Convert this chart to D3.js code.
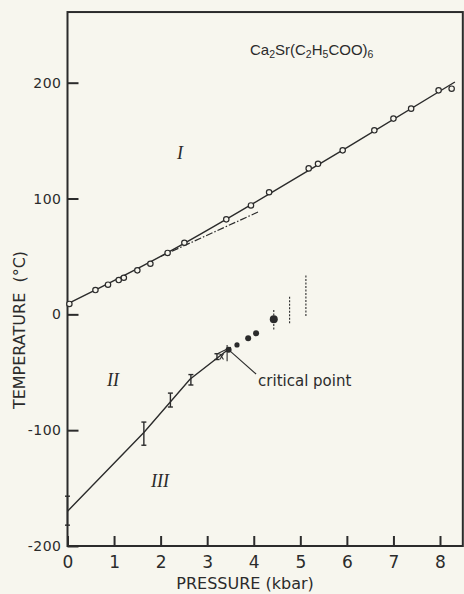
<!DOCTYPE html>
<html><head><meta charset="utf-8">
<script src="https://cdn.jsdelivr.net/npm/d3@7"></script>
<style>body{margin:0;background:#f7f6ee}svg{display:block}</style>
</head><body><svg id="c" width="464" height="594"></svg>
<script>
// ---- data ----
const pressureTicks = [0,1,2,3,4,5,6,7,8];
const temperatureTicks = [-200,-100,0,100,200];
// phase boundary I/II : open circles
const circleP = [0.04,0.60,0.87,1.10,1.21,1.50,1.78,2.15,2.51,3.41,3.94,4.33,5.18,5.38,5.91,6.59,7.00,7.38,7.97,8.25];
const circleT = [9,21,25.6,29.6,31.6,38,43.7,53,61.8,82,94,105.4,126,130,141.6,158.9,169,177.6,193.4,194.8];
// smooth fitted line through the I/II boundary
const fitP = [0,2,4,6,8.32];
const fitT = [9,50,96,144,200.6];
// dash-dot extrapolation
const dashP = [2.0,4.1];
const dashT = [50,88.5];
// II/III boundary line
const lineP = [0,1.64,2.63,3.43];
const lineT = [-170,-102,-56,-31];
// II/III error bars
const barP  = [0,1.64,2.21,2.65,3.21];
const barLo = [-182,-113,-80,-61,-39];
const barHi = [-157,-93,-68,-52,-34];
// filled circles (dielectric maxima)
const dotP = [3.46,3.64,3.88,4.05,4.43];
const dotT = [-30.5,-26.4,-20.7,-16.4,-4.3];
const dotR = [3,2.6,3,3,4];
// dotted vertical bars
const dbarP  = [4.43,4.77,5.12];
const dbarLo = [-13,-7.7,-1.5];
const dbarHi = [5,15.8,33.6];
// critical point
const critP = 3.46, critT = -30.5;
const critLabelP = 4.05, critLabelT = -51.5;

// ---- drawing ----
const ink = "#2b2b2b", bg = "#f7f6ee";
const svg = d3.select("#c");
svg.append("rect").attr("width",464).attr("height",594).attr("fill",bg);

const x = d3.scaleLinear().domain([0,8]).range([67.5,440]);
const y = d3.scaleLinear().domain([-200,200]).range([546,82.7]);
const xMax = 8.49, yMax = 261;

// frame
svg.append("rect")
  .attr("x",x(0)).attr("y",y(yMax))
  .attr("width",x(xMax)-x(0)).attr("height",y(-200)-y(yMax))
  .attr("fill","none").attr("stroke",ink).attr("stroke-width",2);

// y axis
const ya = svg.append("g").attr("transform",`translate(${x(0)},0)`)
  .call(d3.axisLeft(y).tickValues(temperatureTicks).tickSizeInner(-11).tickSizeOuter(0).tickPadding(6).tickFormat(d=>String(d)));
ya.select(".domain").remove();
ya.selectAll("line").attr("stroke",ink).attr("stroke-width",2);
ya.selectAll("text").attr("fill",ink).style("font-family","DejaVu Sans").style("font-size","14px").style("letter-spacing","0.5px");

// x axis
const xa = svg.append("g").attr("transform",`translate(0,${y(-200)})`)
  .call(d3.axisBottom(x).tickValues(pressureTicks).tickSizeInner(-10).tickSizeOuter(0).tickPadding(10).tickFormat(d=>String(d)));
xa.select(".domain").remove();
xa.selectAll("line").attr("stroke",ink).attr("stroke-width",2);
xa.selectAll("text").attr("fill",ink).style("font-family","DejaVu Sans").style("font-size","17px");

// axis titles
svg.append("text").attr("x",245).attr("y",589).attr("text-anchor","middle")
  .attr("fill",ink).style("font-family","DejaVu Sans").style("font-size","16px")
  .text("PRESSURE (kbar)");
svg.append("text").attr("transform","translate(25,330) rotate(-90)").attr("text-anchor","middle")
  .attr("fill",ink).style("font-family","DejaVu Sans").style("font-size","16px")
  .attr("xml:space","preserve").text("TEMPERATURE  (°C)");

// compound title
const t = svg.append("text").attr("x",250).attr("y",55).attr("fill",ink)
  .style("font-family","Liberation Sans").style("font-size","15px");
const parts = [["Ca",0],["2",1],["Sr(C",0],["2",1],["H",0],["5",1],["COO)",0],["6",1]];
parts.forEach(([s,sub],i)=>{
  const prevSub = i>0 ? parts[i-1][1] : 0;
  const ts = t.append("tspan").text(s).attr("dy", sub && !prevSub ? 3 : (!sub && prevSub ? -3 : 0));
  if(sub) ts.style("font-size","10.5px");
});

// region labels
const roman = (s,px,py)=>svg.append("text").attr("x",px).attr("y",py).attr("text-anchor","middle")
  .attr("fill",ink).style("font-family","Liberation Serif").style("font-style","italic").style("font-size","18px").text(s);
roman("I",180,159);
roman("II",113,386);
roman("III",160,487);

// I/II fitted line
svg.append("path").datum(fitP.map((p,i)=>[p,fitT[i]]))
  .attr("d",d3.line().x(d=>x(d[0])).y(d=>y(d[1])).curve(d3.curveNatural))
  .attr("fill","none").attr("stroke",ink).attr("stroke-width",1.4);
// dash-dot line
svg.append("path").datum(dashP.map((p,i)=>[p,dashT[i]]))
  .attr("d",d3.line().x(d=>x(d[0])).y(d=>y(d[1]))).attr("fill","none").attr("stroke",ink)
  .attr("stroke-width",1.2).attr("stroke-dasharray","7,2,1.5,2");
// open circles
svg.append("g").selectAll("circle").data(circleP.map((p,i)=>[p,circleT[i]])).join("circle")
  .attr("cx",d=>x(d[0])).attr("cy",d=>y(d[1])).attr("r",2.7)
  .attr("fill",bg).attr("stroke",ink).attr("stroke-width",1.2);

// II/III line
svg.append("path").datum(lineP.map((p,i)=>[p,lineT[i]]))
  .attr("d",d3.line().x(d=>x(d[0])).y(d=>y(d[1])))
  .attr("fill","none").attr("stroke",ink).attr("stroke-width",1.4);
// error bars
const eb = svg.append("g").attr("stroke",ink).attr("stroke-width",1.4);
barP.forEach((p,i)=>{
  const cx = x(p), w = 2.5;
  eb.append("line").attr("x1",cx).attr("x2",cx).attr("y1",y(barLo[i])).attr("y2",y(barHi[i]));
  eb.append("line").attr("x1",cx-w).attr("x2",cx+w).attr("y1",y(barLo[i])).attr("y2",y(barLo[i]));
  eb.append("line").attr("x1",cx-w).attr("x2",cx+w).attr("y1",y(barHi[i])).attr("y2",y(barHi[i]));
});
// dotted bars
const db = svg.append("g").attr("stroke",ink).attr("stroke-width",1.1).attr("stroke-dasharray","2,1.5");
dbarP.forEach((p,i)=>{
  db.append("line").attr("x1",x(p)).attr("x2",x(p)).attr("y1",y(dbarLo[i])).attr("y2",y(dbarHi[i]));
});
// filled dots
svg.append("g").selectAll("circle").data(dotP.map((p,i)=>[p,dotT[i],dotR[i]])).join("circle")
  .attr("cx",d=>x(d[0])).attr("cy",d=>y(d[1])).attr("r",d=>d[2]).attr("fill",ink);

// critical point marks
const cg = svg.append("g").attr("stroke",ink).attr("stroke-width",1.1);
cg.append("line").attr("x1",x(critP)-1.5).attr("x2",x(critP)-1.5).attr("y1",y(critT+4)).attr("y2",y(critT-10));
cg.append("line").attr("x1",x(critP-0.22)).attr("x2",x(critP+0.05)).attr("y1",y(critT-3)).attr("y2",y(critT+2));
// small x next to last error bar
cg.append("line").attr("x1",x(3.27)).attr("x2",x(3.35)).attr("y1",y(-34)).attr("y2",y(-39));
cg.append("line").attr("x1",x(3.27)).attr("x2",x(3.35)).attr("y1",y(-39)).attr("y2",y(-34));
// pointer line
cg.append("line").attr("x1",x(critP)+1).attr("y1",y(critT)+1)
  .attr("x2",x(critLabelP)).attr("y2",y(critLabelT));
svg.append("text").attr("x",x(critLabelP)+2).attr("y",y(critLabelT)+12)
  .attr("fill",ink).style("font-family","DejaVu Sans").style("font-size","15px").text("critical point");
</script></body></html>
